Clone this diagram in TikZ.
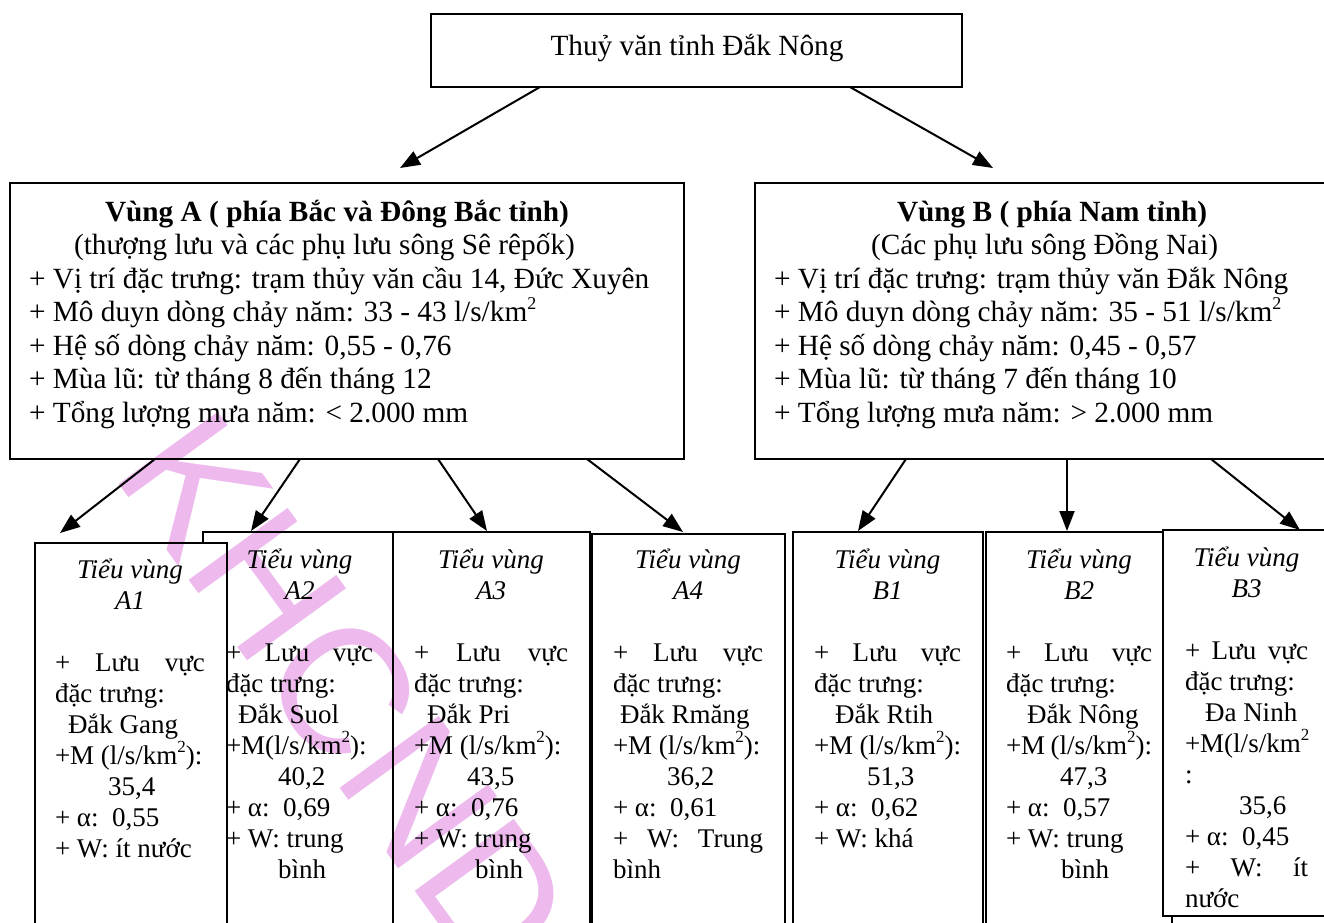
\documentclass[tikz,border=0pt]{standalone}
\usepackage{fontspec}
\setmainfont{Liberation Serif}
\newfontfamily\wmfont{Liberation Sans}
\usetikzlibrary{arrows.meta}
\definecolor{wmpink}{RGB}{238,186,238}
\newcommand\suptwo[1]{\raisebox{0.42em}{\fontsize{#1}{#1}\selectfont 2}}
\newcommand\ctr[1]{\hspace*{\fill}#1\hspace*{\fill}}
\newcommand\blk[2]{\parbox[t]{#1}{\lineskiplimit=-100pt\parskip=0pt #2}}
\newcommand\bigf{\fontsize{29.3}{33.5}\selectfont}
\newcommand\smf{\fontsize{27}{31}\selectfont}
\begin{document}
\begin{tikzpicture}[x={(1pt,0pt)},y={(0pt,-1pt)},
  box/.style={draw, line width=1.8pt, fill=white, inner sep=0pt, outer sep=0pt, anchor=north west},
  arr/.style={line width=2pt, -{Triangle[length=20pt,width=15pt]}},
  txt/.style={anchor=base west, inner sep=0pt, outer sep=0pt}]
\useasboundingbox (0,0) rectangle (1324,922);
\clip (0,0) rectangle (1324,922);
% boxes
\node[box, minimum width=531pt, minimum height=73pt] (top) at (431,14) {};
\node[box, minimum width=674pt, minimum height=276pt] (rA) at (10,183) {};
\node[box, minimum width=591pt, minimum height=276pt] (rB) at (755,183) {};
\node[box, minimum width=190pt, minimum height=420pt] (a2) at (203,532) {};
\node[box, minimum width=192pt, minimum height=420pt] (a1) at (35,543) {};
\node[box, minimum width=197pt, minimum height=420pt] (a3) at (393,532) {};
\node[box, minimum width=193pt, minimum height=420pt] (a4) at (592,534) {};
\node[box, minimum width=190pt, minimum height=420pt] (b1) at (793,532) {};
\node[box, minimum width=186pt, minimum height=420pt] (b2) at (986,532) {};
\node[box, minimum width=168pt, minimum height=386pt] (b3) at (1163,530) {};
% texts
\node[anchor=base, inner sep=0pt] (ttop) at (697,55) {\bigf Thuỷ văn tỉnh Đắk Nông};
\node[txt] (trA) at (29,221) {\blk{645pt}{\bigf
\hspace*{76pt}\textbf{Vùng A ( phía Bắc và Đông Bắc tỉnh)}\\
\hspace*{45pt}(thượng lưu và các phụ lưu sông Sê rêpốk)\\
+ Vị trí đặc trưng: trạm thủy văn cầu 14, Đức Xuyên\\
+ Mô duyn dòng chảy năm: 33 - 43 l/s/km\suptwo{18}\\
+ Hệ số dòng chảy năm: 0,55 - 0,76\\
+ Mùa lũ: từ tháng 8 đến tháng 12\\
+ Tổng lượng mưa năm: < 2.000 mm}};
\node[txt] (trB) at (774,221) {\blk{560pt}{\bigf
\hspace*{123pt}\textbf{Vùng B ( phía Nam tỉnh)}\\
\hspace*{97pt}(Các phụ lưu sông Đồng Nai)\\
+ Vị trí đặc trưng: trạm thủy văn Đắk Nông\\
+ Mô duyn dòng chảy năm: 35 - 51 l/s/km\suptwo{18}\\
+ Hệ số dòng chảy năm: 0,45 - 0,57\\
+ Mùa lũ: từ tháng 7 đến tháng 10\\
+ Tổng lượng mưa năm: > 2.000 mm}};
\node[txt] (ta1) at (55,578) {\blk{150pt}{\smf
\ctr{\textit{Tiểu vùng}}\\
\ctr{\textit{A1}}\\
\mbox{}\\
+\hfill Lưu\hfill vực\\
đặc trưng:\\
\hspace*{13pt}Đắk Gang\\
+M (l/s/km\suptwo{17}):\\
\hspace*{53pt}35,4\\
+ α:\ \ 0,55\\
+ W: ít nước}};
\node[txt] (ta2) at (226,568) {\blk{147pt}{\smf
\ctr{\textit{Tiểu vùng}}\\
\ctr{\textit{A2}}\\
\mbox{}\\
+\hfill Lưu\hfill vực\\
đặc trưng:\\
\hspace*{12pt}Đắk Suol\\
+M(l/s/km\suptwo{17}):\\
\hspace*{52pt}40,2\\
+ α:\ \ 0,69\\
+ W: trung\\
\hspace*{52pt}bình}};
\node[txt] (ta3) at (414,568) {\blk{154pt}{\smf
\ctr{\textit{Tiểu vùng}}\\
\ctr{\textit{A3}}\\
\mbox{}\\
+\hfill Lưu\hfill vực\\
đặc trưng:\\
\hspace*{13pt}Đắk Pri\\
+M (l/s/km\suptwo{17}):\\
\hspace*{53pt}43,5\\
+ α:\ \ 0,76\\
+ W: trung\\
\hspace*{61pt}bình}};
\node[txt] (ta4) at (613,568) {\blk{150pt}{\smf
\ctr{\textit{Tiểu vùng}}\\
\ctr{\textit{A4}}\\
\mbox{}\\
+\hfill Lưu\hfill vực\\
đặc trưng:\\
\hspace*{7pt}Đắk Rmăng\\
+M (l/s/km\suptwo{17}):\\
\hspace*{54pt}36,2\\
+ α:\ \ 0,61\\
+\hfill W:\hfill Trung\\
bình}};
\node[txt] (tb1) at (814,568) {\blk{147pt}{\smf
\ctr{\textit{Tiểu vùng}}\\
\ctr{\textit{B1}}\\
\mbox{}\\
+\hfill Lưu\hfill vực\\
đặc trưng:\\
\hspace*{21pt}Đắk Rtih\\
+M (l/s/km\suptwo{17}):\\
\hspace*{53pt}51,3\\
+ α:\ \ 0,62\\
+ W: khá}};
\node[txt] (tb2) at (1006,568) {\blk{146pt}{\smf
\ctr{\textit{Tiểu vùng}}\\
\ctr{\textit{B2}}\\
\mbox{}\\
+\hfill Lưu\hfill vực\\
đặc trưng:\\
\hspace*{21pt}Đắk Nông\\
+M (l/s/km\suptwo{17}):\\
\hspace*{54pt}47,3\\
+ α:\ \ 0,57\\
+ W: trung\\
\hspace*{55pt}bình}};
\node[txt] (tb3) at (1185,566) {\blk{123pt}{\smf
\ctr{\textit{Tiểu vùng}}\\
\ctr{\textit{B3}}\\
\mbox{}\\
+\hfill Lưu\hfill vực\\
đặc trưng:\\
\hspace*{20pt}Đa Ninh\\
+M(l/s/km\suptwo{17}\\
:\\
\hspace*{54pt}35,6\\
+ α:\ \ 0,45\\
+\hfill W:\hfill ít\\
nước}};
% arrows
\draw[arr] ([xshift=109pt]top.south west) -- ([xshift=390pt,yshift=15pt]rA.north west);
\draw[arr] ([xshift=419pt]top.south west) -- ([xshift=238pt,yshift=15pt]rB.north west);
\draw[arr] ([xshift=145pt]rA.south west) -- ([xshift=25pt,yshift=10pt]a1.north west);
\draw[arr] ([xshift=290pt]rA.south west) -- ([xshift=48pt,yshift=1pt]a2.north west);
\draw[arr] ([xshift=428pt]rA.south west) -- ([xshift=94pt,yshift=1pt]a3.north west);
\draw[arr] ([xshift=577pt]rA.south west) -- ([xshift=91pt,yshift=2pt]a4.north west);
\draw[arr] ([xshift=151pt]rB.south west) -- ([xshift=65pt,yshift=1pt]b1.north west);
\draw[arr] ([xshift=312pt]rB.south west) -- ([xshift=81pt,yshift=1pt]b2.north west);
\draw[arr] ([xshift=456pt]rB.south west) -- ([xshift=137pt]b3.north west);
% watermark
\begin{scope}[blend mode=multiply]
\node[rotate=-54, text=wmpink, inner sep=0pt, font=\wmfont\fontsize{178}{178}\selectfont] (wm) at (346,692) {KHCND};
\end{scope}
\end{tikzpicture}
\end{document}
